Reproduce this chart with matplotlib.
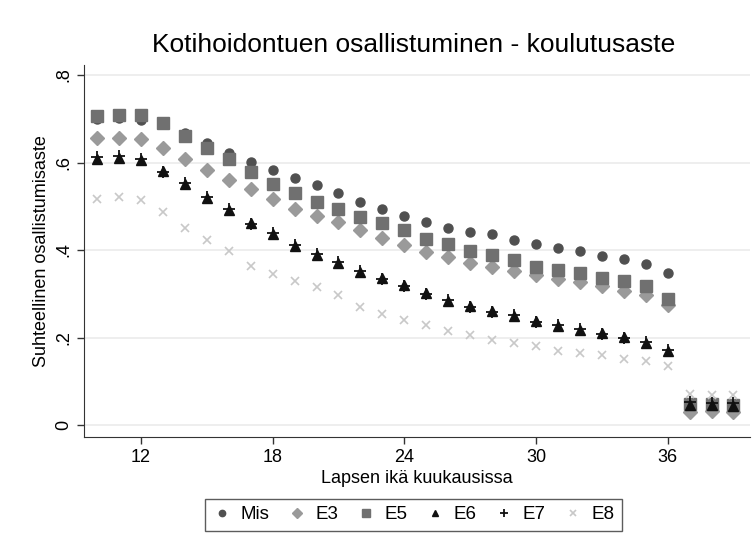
import numpy as np
import matplotlib
matplotlib.use("Agg")
import matplotlib.pyplot as plt

plt.rcParams['font.family'] = ['Liberation Sans', 'DejaVu Sans']

# Lapsen ikä (kk)
ika = list(range(10, 37)) + [37, 38, 39]

mis = [0.700, 0.702, 0.698, 0.688, 0.667, 0.644, 0.622, 0.601, 0.583, 0.564,
       0.548, 0.530, 0.510, 0.494, 0.478, 0.464, 0.450, 0.441, 0.437, 0.423,
       0.414, 0.405, 0.398, 0.386, 0.379, 0.368, 0.347, 0.036, 0.036, 0.035]
e3 = [0.656, 0.656, 0.654, 0.633, 0.608, 0.583, 0.560, 0.539, 0.516, 0.494,
      0.478, 0.464, 0.446, 0.427, 0.411, 0.395, 0.384, 0.370, 0.361, 0.352,
      0.343, 0.334, 0.327, 0.318, 0.306, 0.297, 0.274, 0.030, 0.031, 0.030]
e5 = [0.706, 0.709, 0.709, 0.690, 0.660, 0.633, 0.608, 0.578, 0.552, 0.530,
      0.510, 0.494, 0.476, 0.462, 0.446, 0.425, 0.414, 0.398, 0.389, 0.377,
      0.361, 0.354, 0.347, 0.336, 0.329, 0.318, 0.288, 0.047, 0.047, 0.046]
e6 = [0.608, 0.610, 0.606, 0.581, 0.551, 0.519, 0.491, 0.462, 0.436, 0.409,
      0.389, 0.370, 0.350, 0.336, 0.320, 0.302, 0.283, 0.272, 0.261, 0.249,
      0.238, 0.226, 0.217, 0.210, 0.201, 0.187, 0.169, 0.045, 0.045, 0.044]
e7 = [0.612, 0.614, 0.609, 0.579, 0.554, 0.522, 0.493, 0.460, 0.438, 0.411,
      0.391, 0.372, 0.352, 0.334, 0.318, 0.300, 0.285, 0.270, 0.259, 0.251,
      0.236, 0.228, 0.219, 0.208, 0.199, 0.189, 0.172, 0.052, 0.051, 0.050]
e8 = [0.517, 0.521, 0.514, 0.487, 0.450, 0.423, 0.398, 0.363, 0.345, 0.329,
      0.315, 0.297, 0.270, 0.254, 0.240, 0.229, 0.215, 0.206, 0.194, 0.187,
      0.181, 0.169, 0.165, 0.160, 0.151, 0.146, 0.135, 0.070, 0.069, 0.068]

fig = plt.figure(figsize=(7.52, 5.53), dpi=100)
ax = fig.add_axes([0.1117, 0.2098, 0.885, 0.6727])

ax.plot(ika, mis, 'o', color='#505050', ms=6.5, mec='#505050', label='Mis', zorder=3)
ax.plot(ika, e3, 'D', color='#9a9a9a', ms=7, mec='#9a9a9a', label='E3', zorder=3)
ax.plot(ika, e5, 's', color='#707070', ms=8.5, mec='#707070', label='E5', zorder=3)
ax.plot(ika, e6, '^', color='#111111', ms=7, mec='#111111', label='E6', zorder=3)
ax.plot(ika, e7, '+', color='#111111', ms=9, mew=1.3, label='E7', zorder=3)
ax.plot(ika, e8, 'x', color='#c8c8c8', ms=6, mew=1.2, label='E8', zorder=3)

ax.set_xlim(9.405, 39.73)
ax.set_ylim(-0.0274, 0.823)
ax.set_xticks([12, 18, 24, 30, 36])
ax.set_yticks([0, 0.2, 0.4, 0.6, 0.8])
ax.set_yticklabels(['0', '.2', '.4', '.6', '.8'], rotation=90, va='center')
ax.tick_params(labelsize=13, length=5, width=1, color='#333333')
ax.grid(axis='y', color='#ebebeb', lw=1.2)
ax.set_axisbelow(True)
for s in ['top', 'right']:
    ax.spines[s].set_visible(False)
for s in ['left', 'bottom']:
    ax.spines[s].set_color('#333333')

ax.set_xlabel('Lapsen ikä kuukausissa', fontsize=13, labelpad=3)
ax.set_ylabel('Suhteellinen osallistumisaste', fontsize=13, labelpad=4)
fig.suptitle('Kotihoidontuen osallistuminen - koulutusaste', fontsize=19,
             x=0.55, y=0.918, va='center')

handles, labels = ax.get_legend_handles_labels()
leg = fig.legend(handles, labels, loc='center', bbox_to_anchor=(0.55, 0.069), ncol=6,
                 fontsize=13.5, frameon=True, fancybox=False, edgecolor='#333333',
                 markerscale=0.7, handlelength=1.0, handletextpad=0.5, columnspacing=0.95,
                 borderpad=0.4)
leg.get_frame().set_linewidth(1)

fig.savefig('out.png', dpi=100, facecolor='white')
